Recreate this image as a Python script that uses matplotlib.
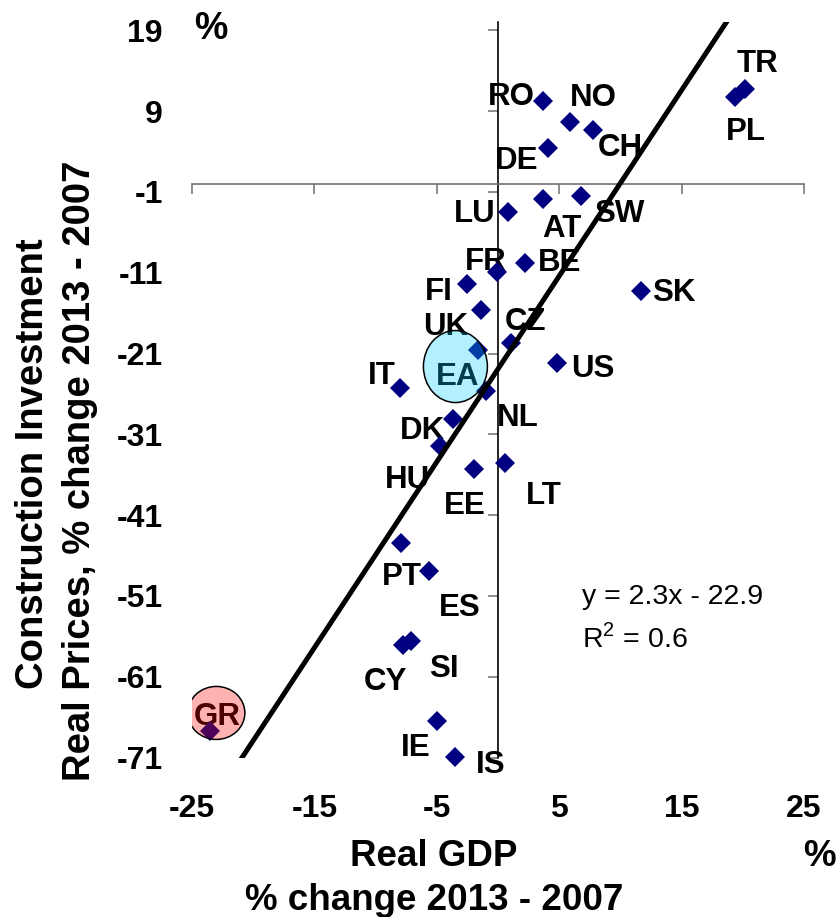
import numpy as np
import matplotlib
matplotlib.use("Agg")
import matplotlib.pyplot as plt
from matplotlib.patches import Ellipse
from matplotlib.transforms import ScaledTranslation

plt.rcParams["font.family"] = ["Liberation Sans", "DejaVu Sans"]
plt.rcParams["mathtext.fontset"] = "custom"
plt.rcParams["mathtext.rm"] = "Liberation Sans"

# Real GDP vs real construction investment prices, % change 2013 - 2007
countries = ["RO", "NO", "CH", "DE", "TR", "PL", "LU", "AT", "SW", "FR",
             "BE", "FI", "UK", "CZ", "EA", "US", "SK", "NL", "EE", "LT",
             "IT", "DK", "HU", "PT", "ES", "CY", "SI", "IE", "IS", "GR"]
gdp = [3.7, 5.9, 7.8, 4.1, 20.2, 19.4, 0.8, 3.7, 6.8, -0.1,
       2.2, -2.5, -1.4, 1.1, -1.6, 4.8, 11.7, -1.0, -2.0, 0.6,
       -8.0, -3.7, -4.7, -7.9, -5.6, -7.8, -7.1, -5.0, -3.5, -23.5]
prices = [10.2, 7.7, 6.7, 4.5, 11.8, 10.8, -3.5, -1.9, -1.5, -10.9,
          -9.8, -12.4, -15.6, -19.7, -20.5, -22.2, -13.3, -25.6, -35.3, -34.6,
          -25.2, -29.1, -32.4, -44.5, -47.9, -57.1, -56.6, -66.5, -70.9, -67.7]

# label offsets from each marker, in pixels (x right, y up) to the label centre
label_dx = [-32, 23, 27, -32, 12, 10, -33, 19, 38, -11,
            35, -29, -35, 14, -21, 36, 33, 32, -9, 38,
            -18, -30, -33, 1, 30, -17, 33, -21, 36, 7]
label_dy = [8, 27, -15, -10, 28, -32, 1, -27, -15, 13,
            3, -5, -14, 24, -24, -3, 2, -24, -34, -29,
            15, -9, -31, -30, -34, -34, -25, -24, -5, 17]

slope, intercept, r2 = 2.3, -22.9, 0.6

xticks = [-25, -15, -5, 5, 15, 25]
yticks = [-71, -61, -51, -41, -31, -21, -11, -1, 9, 19]
xlim = (-25, 25)
ylim = (-71, 20)

W, H, DPI = 836, 917, 100
fig = plt.figure(figsize=(W / DPI, H / DPI), dpi=DPI)
rect = [192 / W, 1 - 757.6 / H, 612 / W, 735.3 / H]

# tick labels sit on the outer edges of the plot area
lab = fig.add_axes(rect, zorder=0)
lab.set_xlim(*xlim)
lab.set_ylim(*ylim)
lab.patch.set_visible(False)
for s in lab.spines.values():
    s.set_visible(False)
lab.set_xticks(xticks, labels=[str(v) for v in xticks])
lab.set_yticks(yticks, labels=[str(v) for v in yticks])
lab.tick_params(axis="x", length=0, pad=26, labelsize=23)
lab.tick_params(axis="y", length=0, pad=21, labelsize=23)
for t in lab.get_xticklabels() + lab.get_yticklabels():
    t.set_fontweight("bold")

ax = fig.add_axes(rect, zorder=1)
ax.patch.set_visible(False)
ax.set_xlim(*xlim)
ax.set_ylim(*ylim)
ax.spines["top"].set_visible(False)
ax.spines["right"].set_visible(False)
ax.spines["left"].set_position(("data", 0))
ax.spines["bottom"].set_position(("data", 0))
ax.spines["left"].set_color("black")
ax.spines["left"].set_linewidth(1.2)
ax.spines["bottom"].set_color("#707070")
ax.spines["bottom"].set_linewidth(1.2)
ax.set_xticks(xticks)
ax.set_yticks(yticks)
ax.tick_params(axis="both", direction="out", length=7, width=1.1,
               color="#707070", labelbottom=False, labelleft=False)

# country points
ax.plot(gdp, prices, linestyle="none", marker="D", ms=10.5, mew=0,
        color="#000080", zorder=4, clip_on=False)

# trend line
xs = np.array(xlim, dtype=float)
ax.plot(xs, slope * xs + intercept, color="black", lw=3.6, zorder=5,
        solid_capstyle="butt")

# country labels
fs_lab = 22.5
cap_half_px = 0.358 * fs_lab * DPI / 72
for name, x, y, dx, dy in zip(countries, gdp, prices, label_dx, label_dy):
    ax.annotate(name, (x, y), xytext=(dx, dy - cap_half_px),
                textcoords="offset pixels", ha="center", va="baseline",
                fontsize=fs_lab, fontweight="bold", color="black", zorder=3)


def highlight(name, dx, dy, w, h, rgb):
    """Translucent ellipse (sizes in pixels) offset from a country's point."""
    i = countries.index(name)
    trans = fig.dpi_scale_trans + ScaledTranslation(gdp[i], prices[i], ax.transData)
    e = Ellipse((dx / DPI, dy / DPI), w / DPI, h / DPI, transform=trans,
                facecolor=(*rgb, 0.3), edgecolor="black", lw=1.1, zorder=6)
    ax.add_artist(e)


highlight("EA", -23, -17, 64, 72, (0.0, 0.8, 1.0))
highlight("GR", 6, 18, 57, 53, (1.0, 0.0, 0.0))

# regression statistics
fig.text(582 / W, 1 - 603.5 / H, f"y = {slope}x - {abs(intercept)}",
         fontsize=20.5, ha="left", va="baseline")
fig.text(582 / W, 1 - 647 / H, r"R$^{\mathrm{2}}$" + f" = {r2}",
         fontsize=20.5, ha="left", va="baseline")

# axis titles
fig.text(211 / W, 1 - 29 / H, "%", fontsize=27, fontweight="bold",
         ha="center", va="center")
fig.text(434 / W, 1 - 857 / H, "Real GDP", fontsize=26.5, fontweight="bold",
         ha="center", va="center")
fig.text(434 / W, 1 - 900 / H, "% change 2013 - 2007", fontsize=26.5,
         fontweight="bold", ha="center", va="center")
fig.text(819 / W, 1 - 857 / H, "%", fontsize=26.5, fontweight="bold",
         ha="center", va="center")
fig.text(33 / W, 1 - 464 / H, "Construction Investment", fontsize=27.5,
         fontweight="bold", rotation=90, ha="center", va="center")
fig.text(80 / W, 1 - 471 / H, "Real Prices, % change 2013 - 2007", fontsize=27.5,
         fontweight="bold", rotation=90, ha="center", va="center")

fig.savefig("out.png", dpi=DPI)
